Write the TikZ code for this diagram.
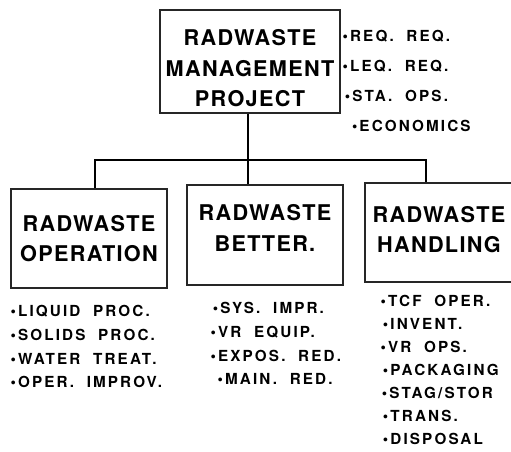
\documentclass[tikz,border=0pt]{standalone}
\usepackage{fontspec}
\setmainfont{TeX Gyre Heros}
\newfontfamily\boxfont[LetterSpace=6]{TeX Gyre Heros}
\newfontfamily\listfont[LetterSpace=14,WordSpace=2.0]{TeX Gyre Heros}
\usepackage{tikz}
\usetikzlibrary{positioning}

\begin{document}
\begin{tikzpicture}[x=0.03cm,y=-0.03cm,
    line width=1.1pt,
    box/.style={draw=black!85, fill=white, align=center, inner sep=0pt,
      font=\boxfont\bfseries\fontsize{18.5}{26}\selectfont},
    items/.style={align=left, anchor=north west, inner sep=0pt,
      font=\listfont\bfseries\fontsize{13}{20.2}\selectfont}]
  \useasboundingbox (0,0) rectangle (511,451);

  % top of the tree
  \node[box, minimum width=5.4cm, minimum height=3.09cm] (proj) at (250,61.5)
    {\rule{0pt}{25pt}RADWASTE\\MANAGEMENT\\PROJECT};
  \node[items, font=\listfont\bfseries\fontsize{13}{25.5}\selectfont]
    (projlist) at (342,30)
    {\textbullet REQ. REQ.\\
     \textbullet LEQ. REQ.\\
     \hspace{2pt}\textbullet STA. OPS.\\
     \hspace{8pt}\textbullet ECONOMICS};

  % second level
  \node[box, minimum width=4.68cm, minimum height=2.97cm] (oper) at (89,238.5)
    {RADWASTE\\OPERATION};
  \node[box, minimum width=4.68cm, minimum height=3.0cm] (bett) at (265,235)
    {RADWASTE\\BETTER.\rule[-12pt]{0pt}{0pt}};
  \node[box, minimum width=4.44cm, minimum height=2.97cm] (hand) at (439,232.5)
    {RADWASTE\\HANDLING\rule[-5pt]{0pt}{0pt}};

  \node[items] (operlist) at (10,305)
    {\textbullet LIQUID PROC.\\
     \textbullet SOLIDS PROC.\\
     \textbullet WATER TREAT.\\
     \textbullet OPER. IMPROV.};
  \node[items] (bettlist) at (210,302)
    {\hspace{2pt}\textbullet SYS. IMPR.\\
     \textbullet VR EQUIP.\\
     \textbullet EXPOS. RED.\\
     \hspace{6pt}\textbullet MAIN. RED.};
  \node[items, font=\listfont\bfseries\fontsize{13}{19.6}\selectfont]
    (handlist) at (380,295)
    {\textbullet TCF OPER.\\
     \hspace{2pt}\textbullet INVENT.\\
     \textbullet VR OPS.\\
     \hspace{2pt}\textbullet PACKAGING\\
     \hspace{1pt}\textbullet STAG/STOR\\
     \hspace{2pt}\textbullet TRANS.\\
     \hspace{2pt}\textbullet DISPOSAL};

  % connectors
  \coordinate (bus) at (248,160);
  \coordinate (busL) at (95,160);
  \coordinate (busR) at (426,160);
  \draw (proj.south -| bus) -- (bus |- bett.north);
  \draw (busL |- oper.north) -- (busL) -- (busR) -- (busR |- hand.north);
\end{tikzpicture}
\end{document}
